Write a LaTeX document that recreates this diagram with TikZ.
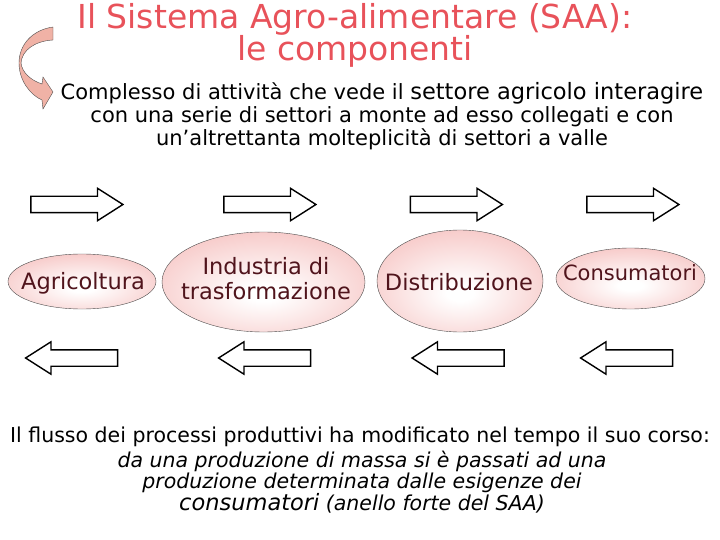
\documentclass[tikz,border=0pt]{standalone}
\usepackage{fontspec}
\setmainfont{DejaVu Sans}
\usetikzlibrary{shapes.geometric, shapes.arrows, positioning}
\definecolor{titlered}{RGB}{232,82,90}
\definecolor{blobpink}{RGB}{242,170,168}
\definecolor{blobtext}{RGB}{80,20,28}
\definecolor{curlpink}{RGB}{240,178,166}
\pgfdeclareradialshading{blobshade}{\pgfpoint{0bp}{-6bp}}{color(0bp)=(white); color(4bp)=(white); color(46bp)=(blobpink); color(100bp)=(blobpink)}
\tikzset{
  blob/.style={ellipse, draw=black!70, thin, inner sep=0pt, shading=blobshade},
  blobtext/.style={text=blobtext, align=center, inner sep=0pt, font=\fontsize{22.5}{25}\selectfont},
  fwd/.style={single arrow, draw, line width=1.4pt, fill=white, inner xsep=0pt, inner ysep=7.5pt, minimum height=92pt, single arrow head extend=8pt, single arrow tip angle=65},
  bwd/.style={fwd, shape border rotate=180},
  curl/.style={draw=black!70, thin, fill=curlpink}
}

\begin{document}
\begin{tikzpicture}[x=1pt, y=-1pt]
                        \useasboundingbox (0, 0) rectangle (720, 540);
                        \node[text=titlered, align=center, font=\fontsize{33}{32}\selectfont] (0) at (355, 35) {Il Sistema Agro-alimentare (SAA):\\le componenti};
                        \draw[curl] (53, 27) .. controls (32, 30) and (19, 45) .. (19, 63) .. controls (19, 80) and (30, 95) .. (42, 100) -- (43, 109) -- (53, 92) -- (43, 77) -- (42, 84) .. controls (30, 80) and (22, 72) .. (21, 63) .. controls (22, 50) and (35, 41) .. (53, 40) -- cycle;
                        \node[align=center, font=\fontsize{21}{23}\selectfont] (1) at (382, 116) {Complesso di attività che vede il {\fontsize{22.5}{23}\selectfont settore agricolo interagire}\\con una serie di settori a monte ad esso collegati e con\\un’altrettanta molteplicità di settori a valle};
                        % filiera
                        \node[blob, minimum width=148pt, minimum height=55pt] (2) at (82, 281.5) {};
                        \node[blob, minimum width=203pt, minimum height=100pt] (3) at (263.5, 282) {};
                        \node[blob, minimum width=166pt, minimum height=102pt] (4) at (460, 281) {};
                        \node[blob, minimum width=149pt, minimum height=61pt] (5) at (630.5, 278.5) {};
                        \node[blobtext] (2t) at (83, 283) {Agricoltura};
                        \node[blobtext] (3t) at (266, 279) {Industria di\\trasformazione};
                        \node[blobtext] (4t) at (459, 282) {Distribuzione};
                        \node[blobtext, font=\fontsize{21}{25}\selectfont] (5t) at (630, 273) {Consumatori};
                        \node[fwd] (6) at (70.5, 204.5) {};
                        \node[fwd] (7) at (263.5, 204.5) {};
                        \node[fwd] (8) at (450, 204.5) {};
                        \node[fwd] (9) at (626.5, 204.5) {};
                        \node[bwd] (10) at (78, 358) {};
                        \node[bwd] (11) at (271, 358) {};
                        \node[bwd] (12) at (464.5, 358) {};
                        \node[bwd] (13) at (633, 358) {};
                        \node[font=\fontsize{20.5}{21}\selectfont] (14) at (360, 437) {Il flusso dei processi produttivi ha modificato nel tempo il suo corso:};
                        \node[align=center, font=\itshape\fontsize{20.5}{21.5}\selectfont] (15) at (362, 482) {da una produzione di massa si è passati ad una\\produzione determinata dalle esigenze dei\\{\fontsize{22.5}{21.5}\selectfont consumatori} (anello forte del SAA)};
                    \end{tikzpicture}
\end{document}
